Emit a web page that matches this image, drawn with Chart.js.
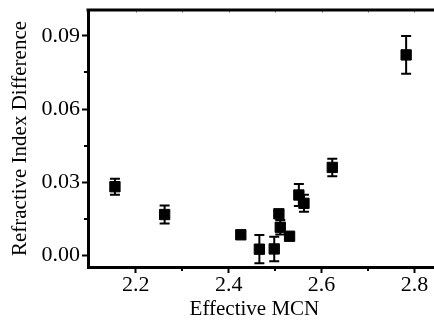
<!DOCTYPE html>
<html>
<head>
<meta charset="utf-8">
<script src="https://cdn.jsdelivr.net/npm/chart.js@4/dist/chart.umd.min.js"></script>
<style>
html,body{margin:0;padding:0;background:#fff;}
#wrap{width:434px;height:322px;position:relative;}
</style>
</head>
<body>
<div id="wrap"><canvas id="c" width="434" height="322"></canvas></div>
<script>
const mcn = [2.155, 2.262, 2.426, 2.466, 2.498, 2.508, 2.511, 2.531, 2.551, 2.562, 2.623, 2.782];
const riDiff = [0.0282, 0.0168, 0.0085, 0.0026, 0.0027, 0.0171, 0.0116, 0.0079, 0.0248, 0.0214, 0.0361, 0.0822];
const riErr = [0.0033, 0.0037, 0.0010, 0.0058, 0.0050, 0.0010, 0.0030, 0.0010, 0.0045, 0.0035, 0.0036, 0.0077];
const xMinorTicks = [2.3, 2.5, 2.7];
const yMinorTicks = [0.015, 0.045, 0.075];
const xTitle = 'Effective MCN';
const yTitle = 'Refractive Index Difference';

const points = mcn.map((x, i) => ({x: x, y: riDiff[i]}));
const serif = "'Liberation Serif', 'Times New Roman', serif";

const extras = {
  id: 'extras',
  beforeDatasetsDraw(chart) {
    const ctx = chart.ctx;
    const xs = chart.scales.x, ys = chart.scales.y;
    ctx.save();
    ctx.strokeStyle = '#000';
    ctx.lineWidth = 2;
    mcn.forEach((x, i) => {
      const px = xs.getPixelForValue(x);
      const top = ys.getPixelForValue(riDiff[i] + riErr[i]);
      const bot = ys.getPixelForValue(riDiff[i] - riErr[i]);
      ctx.beginPath();
      ctx.moveTo(px, top); ctx.lineTo(px, bot);
      ctx.moveTo(px - 5, top); ctx.lineTo(px + 5, top);
      ctx.moveTo(px - 5, bot); ctx.lineTo(px + 5, bot);
      ctx.stroke();
    });
    ctx.restore();
  },
  afterDraw(chart) {
    const ctx = chart.ctx;
    const a = chart.chartArea;
    const xs = chart.scales.x, ys = chart.scales.y;
    ctx.save();
    ctx.strokeStyle = '#000';
    // top frame
    ctx.lineWidth = 3;
    ctx.beginPath();
    ctx.moveTo(a.left - 1.5, a.top);
    ctx.lineTo(a.right, a.top);
    ctx.stroke();
    // minor ticks
    ctx.lineWidth = 2;
    ctx.beginPath();
    xMinorTicks.forEach(v => {
      const p = Math.round(xs.getPixelForValue(v));
      ctx.moveTo(p, a.bottom); ctx.lineTo(p, a.bottom + 4);
    });
    yMinorTicks.forEach(v => {
      const p = Math.round(ys.getPixelForValue(v));
      ctx.moveTo(a.left, p); ctx.lineTo(a.left - 4, p);
    });
    ctx.stroke();
    // faint top ticks
    ctx.strokeStyle = 'rgba(0,0,0,0.35)';
    ctx.lineWidth = 1;
    ctx.beginPath();
    [2.2, 2.3, 2.4, 2.5, 2.6, 2.7, 2.8].forEach(v => {
      const p = Math.round(xs.getPixelForValue(v)) + 0.5;
      ctx.moveTo(p, a.top + 1); ctx.lineTo(p, a.top + 3);
    });
    ctx.stroke();
    // x axis title
    ctx.fillStyle = '#000';
    ctx.font = '21px ' + serif;
    ctx.textAlign = 'center';
    ctx.textBaseline = 'middle';
    ctx.fillText(xTitle, a.left + (a.right - a.left) * 0.481, 309.5);
    ctx.restore();
  }
};

new Chart(document.getElementById('c'), {
  type: 'scatter',
  data: {
    datasets: [{
      data: points,
      pointStyle: 'rect',
      pointRadius: 7.3,
      pointHoverRadius: 7.3,
      backgroundColor: '#000',
      borderColor: '#000',
      borderWidth: 1
    }]
  },
  options: {
    responsive: false,
    animation: false,
    devicePixelRatio: 1,
    layout: { autoPadding: false, padding: { top: 10, right: 0, left: 0, bottom: 0 } },
    plugins: { legend: { display: false }, tooltip: { enabled: false } },
    scales: {
      x: {
        type: 'linear',
        min: 2.097,
        max: 2.842,
        ticks: {
          stepSize: 0.2,
          includeBounds: false,
          color: '#000',
          font: { family: serif, size: 22 },
          padding: -1,
          maxRotation: 0,
          callback: v => v.toFixed(1)
        },
        grid: { drawOnChartArea: false, tickLength: 6, tickWidth: 2, color: '#000' },
        border: { display: true, width: 3, color: '#000' },
        title: { display: false, text: xTitle },
        afterFit(s) { s.height = 55; s.paddingLeft = 0; s.paddingRight = 0; }
      },
      y: {
        type: 'linear',
        min: -0.0047,
        max: 0.1006,
        ticks: {
          stepSize: 0.03,
          includeBounds: false,
          color: '#000',
          font: { family: serif, size: 22 },
          padding: 2,
          callback: v => v.toFixed(2)
        },
        grid: { drawOnChartArea: false, tickLength: 6, tickWidth: 2, color: '#000' },
        border: { display: true, width: 3, color: '#000' },
        title: { display: true, text: yTitle, color: '#000', font: { family: serif, size: 21 }, padding: { top: 8, bottom: 0 } },
        afterFit(s) { s.width = 88; s.paddingTop = 0; s.paddingBottom = 0; }
      }
    }
  },
  plugins: [extras]
});
</script>
</body>
</html>
